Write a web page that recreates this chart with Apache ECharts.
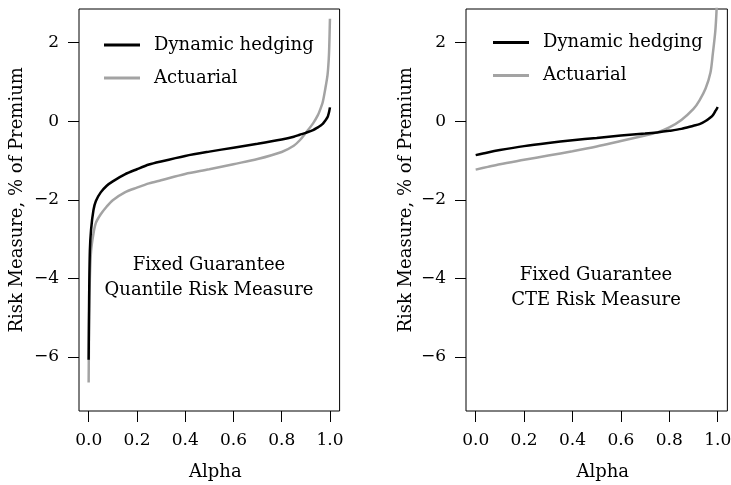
<!DOCTYPE html>
<html>
<head>
<meta charset="utf-8">
<script src="https://cdn.jsdelivr.net/npm/echarts@6/dist/echarts.min.js"></script>
<style>
html,body{margin:0;padding:0;background:#fff;}
#chart{width:731px;height:485px;}
</style>
</head>
<body>
<div id="chart"></div>
<script>
// ---- data ----
const seriesNames = ['Dynamic hedging', 'Actuarial'];

// Left panel: Quantile risk measure
const quantAlpha = [0, 0.002, 0.005, 0.01, 0.02, 0.03, 0.05, 0.075, 0.1, 0.15, 0.2, 0.25, 0.3, 0.4, 0.5, 0.6, 0.7, 0.8, 0.85, 0.875, 0.9, 0.93, 0.95, 0.96, 0.97, 0.98, 0.99, 0.995, 0.997, 1.0];
const quantDynamic = [-6.07, -4.5, -3.3, -2.75, -2.25, -2.02, -1.80, -1.63, -1.52, -1.34, -1.21, -1.09, -1.01, -0.87, -0.76, -0.66, -0.56, -0.45, -0.38, -0.33, -0.28, -0.21, -0.14, -0.10, -0.05, 0.03, 0.12, 0.22, 0.27, 0.37];
const quantActuarial = [-6.65, -5.0, -4.0, -3.3, -2.85, -2.58, -2.36, -2.16, -2.0, -1.80, -1.68, -1.57, -1.49, -1.33, -1.21, -1.08, -0.95, -0.77, -0.61, -0.47, -0.28, -0.04, 0.17, 0.32, 0.50, 0.82, 1.2, 1.6, 1.9, 2.63];

// Right panel: CTE risk measure
const cteAlpha = [0, 0.05, 0.1, 0.2, 0.3, 0.4, 0.5, 0.6, 0.7, 0.75, 0.8, 0.85, 0.9, 0.925, 0.95, 0.97, 0.98, 0.99, 0.995, 1.0];
const cteDynamic = [-0.85, -0.78, -0.72, -0.62, -0.54, -0.47, -0.41, -0.35, -0.30, -0.27, -0.23, -0.18, -0.10, -0.06, 0.02, 0.11, 0.17, 0.27, 0.32, 0.38];
const cteActuarial = [-1.22, -1.15, -1.08, -0.97, -0.86, -0.75, -0.63, -0.49, -0.35, -0.27, -0.14, 0.05, 0.33, 0.55, 0.85, 1.25, 1.74, 2.3, 2.8, 3.6];

// Tick labels
const xTicks = [0, 0.2, 0.4, 0.6, 0.8, 1.0];
const xTickLabels = ['0.0', '0.2', '0.4', '0.6', '0.8', '1.0'];
const yTicks = [-6, -4, -2, 0, 2];
const yTickLabels = ['\u22126', '\u22124', '\u22122', '0', '2'];

const panelTitles = [
  'Fixed Guarantee\nQuantile Risk Measure',
  'Fixed Guarantee\nCTE Risk Measure'
];
const xTitle = 'Alpha';
const yTitle = 'Risk Measure, % of Premium';

// ---- styles ----
const FONT = '"DejaVu Serif", serif';
const colors = ['#000000', '#a3a3a3'];
const TICK = 11;
const BOX_TOP = 9, BOX_H = 402;

function zip(xs, ys) { return xs.map((x, i) => [x, ys[i]]); }
function lookup(ticks, labels) {
  return function (v) {
    const i = ticks.findIndex(t => Math.abs(t - v) < 1e-9);
    return i >= 0 ? labels[i] : '';
  };
}

const chart = echarts.init(document.getElementById('chart'), null, {renderer: 'canvas'});

const panels = [
  {boxLeft: 79, tickLeft: 88.7, tickWidth: 241.3, yNameGap: 42, legendLeft: 99, legendTop: 30, textX: 209, textY: 278},
  {boxLeft: 466, tickLeft: 475.7, tickWidth: 242, yNameGap: 40, legendLeft: 488, legendTop: 27.5, textX: 596, textY: 288}
];

const tickLines = {show: true, showMinLine: true, showMaxLine: true, lineStyle: {color: '#000', width: 1, type: 'solid', opacity: 1}};

const grids = [], xAxes = [], yAxes = [], legends = [], graphics = [];
panels.forEach((p, k) => {
  const g0 = 3 * k;
  // plotting region with frame
  grids.push({left: p.boxLeft, top: BOX_TOP, width: p.tickWidth * 1.08, height: BOX_H, show: true,
    borderColor: '#000', borderWidth: 1, containLabel: false, outerBoundsMode: 'none'});
  // strip under the frame for x ticks
  grids.push({left: p.tickLeft, top: BOX_TOP + BOX_H, width: p.tickWidth, height: TICK, show: false,
    containLabel: false, outerBoundsMode: 'none'});
  // strip left of the frame for y ticks
  grids.push({left: p.boxLeft - TICK, top: 42.7, width: TICK, height: 314.3, show: false,
    containLabel: false, outerBoundsMode: 'none'});

  // data axes
  xAxes.push({type: 'value', gridIndex: g0, min: -0.04, max: 1.04, show: false});
  yAxes.push({type: 'value', gridIndex: g0, min: -7.38, max: 2.88, show: false});
  // x tick strip
  xAxes.push({type: 'value', gridIndex: g0 + 1, min: 0, max: 1, interval: 0.2, position: 'bottom',
    axisLine: {show: false, onZero: false}, axisTick: {show: false}, splitLine: tickLines,
    axisLabel: {show: true, margin: 10, color: '#000', fontFamily: FONT, fontSize: 17, formatter: lookup(xTicks, xTickLabels)},
    name: xTitle, nameLocation: 'middle', nameGap: 41,
    nameTextStyle: {color: '#000', fontFamily: FONT, fontSize: 18, padding: [0, 0, 0, 12]}});
  yAxes.push({type: 'value', gridIndex: g0 + 1, min: 0, max: 1, show: false});
  // y tick strip
  xAxes.push({type: 'value', gridIndex: g0 + 2, min: 0, max: 1, show: false});
  yAxes.push({type: 'value', gridIndex: g0 + 2, min: -6, max: 2, interval: 2, position: 'left',
    axisLine: {show: false, onZero: false}, axisTick: {show: false}, splitLine: tickLines,
    axisLabel: {show: true, margin: 9, color: '#000', fontFamily: FONT, fontSize: 17, formatter: lookup(yTicks, yTickLabels)},
    name: yTitle, nameLocation: 'middle', nameGap: p.yNameGap, nameRotate: 90,
    nameTextStyle: {color: '#000', fontFamily: FONT, fontSize: 18}});

  legends.push({data: seriesNames, left: p.legendLeft, top: p.legendTop, orient: 'vertical',
    icon: 'rect', itemWidth: 36, itemHeight: 3, itemGap: 13,
    textStyle: {color: '#000', fontFamily: FONT, fontSize: 18, lineHeight: 20, padding: [0, 0, 0, 9]}});
  graphics.push({type: 'text', x: p.textX, y: p.textY, silent: true,
    style: {text: panelTitles[k], fill: '#000', font: '18px ' + FONT, align: 'center', verticalAlign: 'middle', lineHeight: 25}});
});

function lineSeries(name, axisIdx, data, color) {
  return {name: name, type: 'line', xAxisIndex: axisIdx, yAxisIndex: axisIdx, data: data,
    showSymbol: false, symbol: 'none', smooth: 0.3, clip: true,
    lineStyle: {color: color, width: 2.5}, itemStyle: {color: color}, animation: false};
}

const series = [
  lineSeries(seriesNames[1], 0, zip(quantAlpha, quantActuarial), colors[1]),
  lineSeries(seriesNames[0], 0, zip(quantAlpha, quantDynamic), colors[0]),
  lineSeries(seriesNames[1], 3, zip(cteAlpha, cteActuarial), colors[1]),
  lineSeries(seriesNames[0], 3, zip(cteAlpha, cteDynamic), colors[0])
];

chart.setOption({
  animation: false,
  grid: grids,
  xAxis: xAxes,
  yAxis: yAxes,
  legend: legends,
  graphic: graphics,
  series: series
});
</script>
</body>
</html>
